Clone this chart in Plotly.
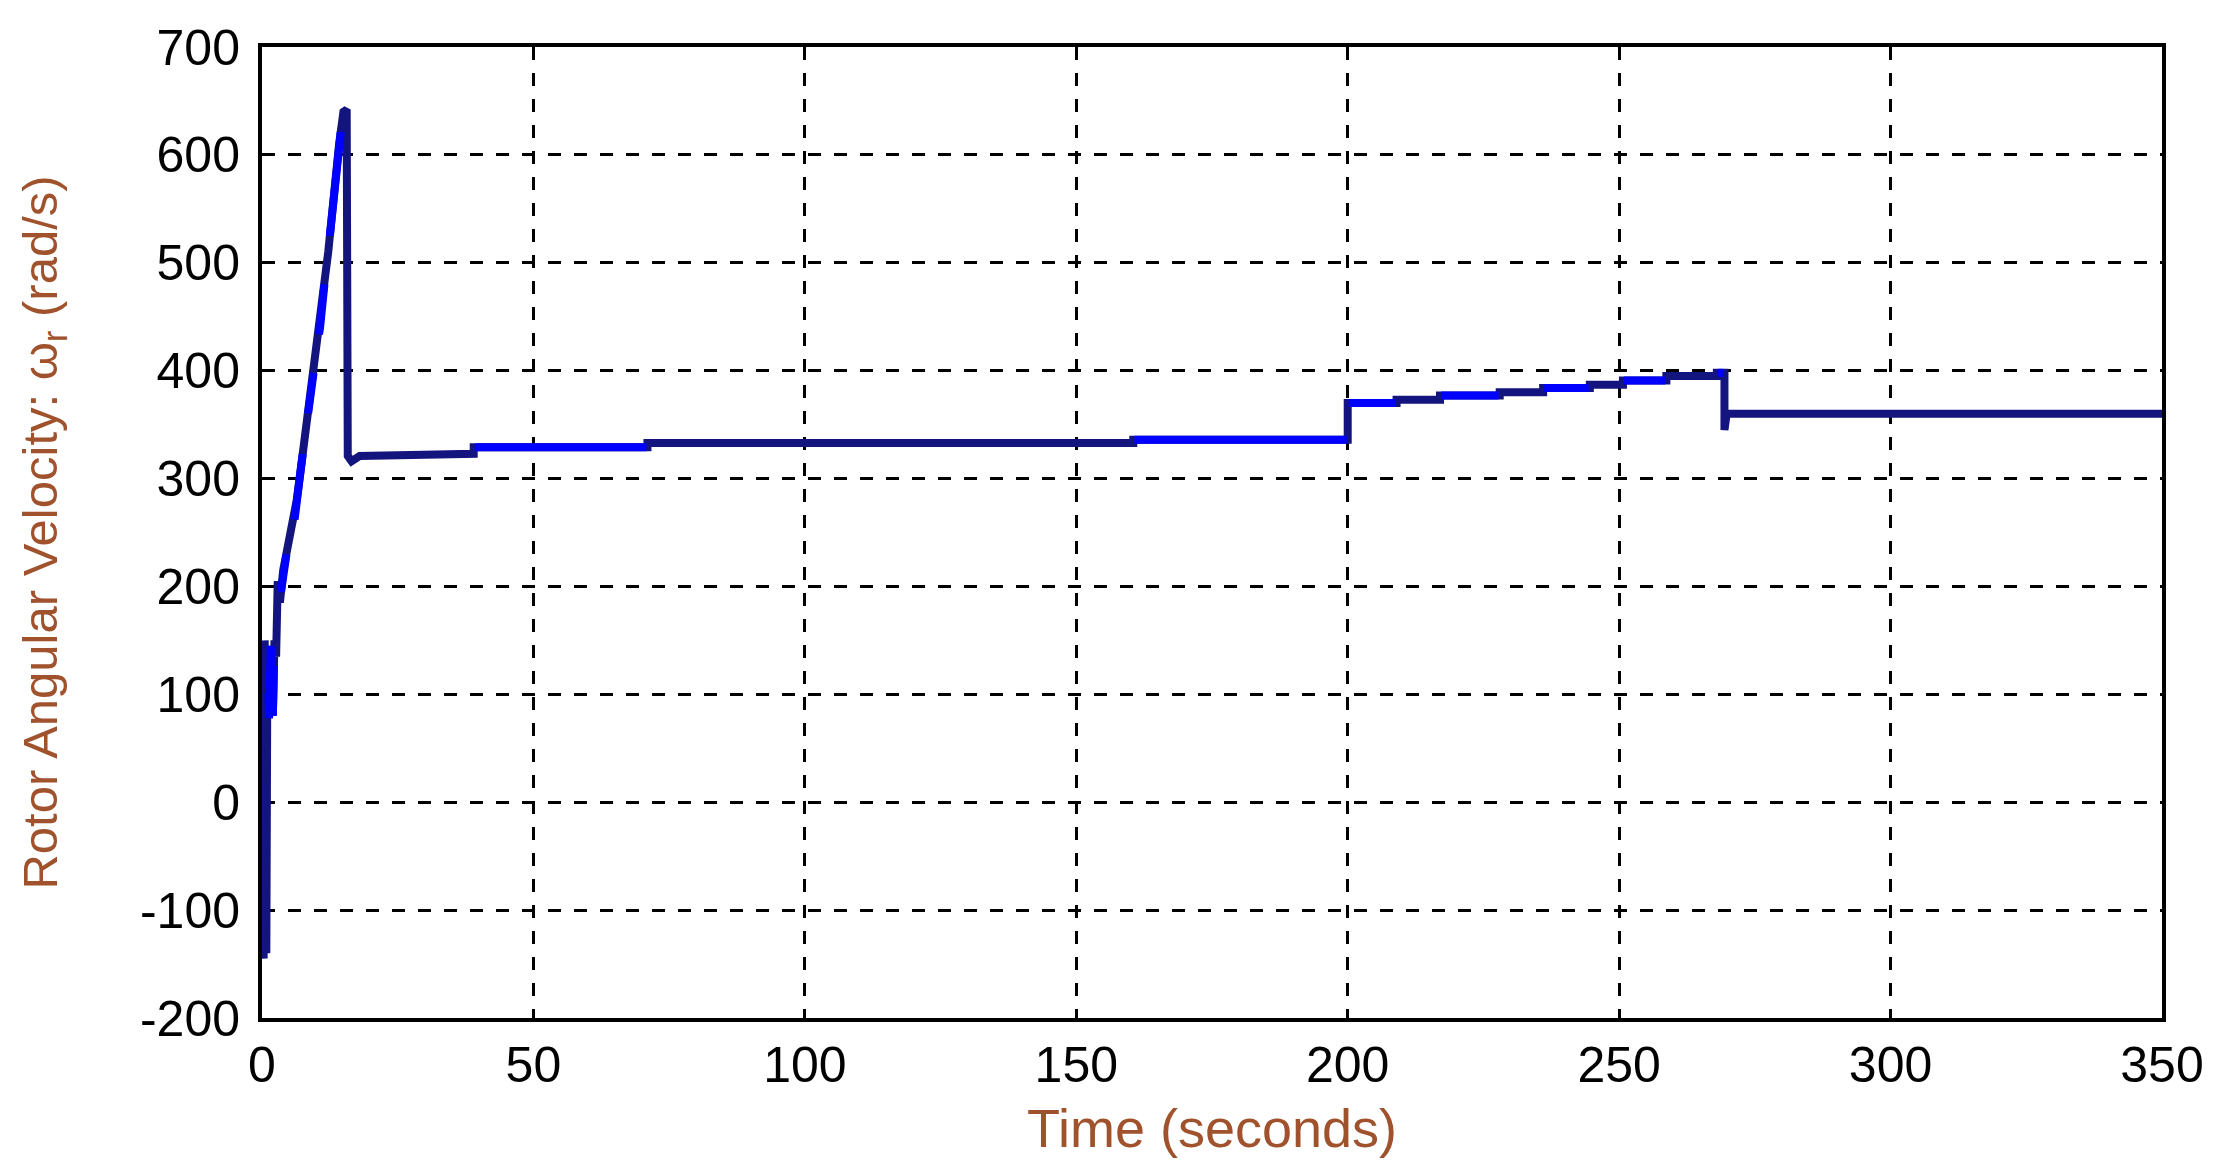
import numpy as np
import plotly.graph_objects as go

# ---- data ----
time_s = [0, 0.3, 0.5, 0.8, 1.0, 1.3, 1.6, 2.0, 2.3, 2.6, 2.9, 3.3, 3.9, 4.6, 5.5, 6.0, 6.4, 7.3, 8.2, 9.2,
          9.9, 10.7, 11.5, 12.2, 12.8, 13.4, 14.2, 15.0, 15.6, 15.8, 16.5, 18.0, 25.0,
          39.0, 39.0, 71.0, 71.0, 160.5, 160.5, 200.0, 200.0, 209.0, 209.0, 217.0, 217.0,
          228.0, 228.0, 236.0, 236.0, 244.6, 244.6, 250.7, 250.7, 258.7, 258.7, 268.0, 268.0,
          269.4, 269.4, 269.8, 350.0]
omega_r = [0, -145, 150, -140, 145, 78, 145, 80, 150, 135, 205, 185, 215, 232, 250, 262, 280, 315, 350, 385,
           415, 440, 480, 510, 540, 575, 610, 640, 642, 321, 316, 321, 322,
           323, 329, 329, 333, 333, 336, 336, 370, 370, 373, 373, 377,
           377, 380, 380, 384, 384, 387, 387, 391, 391, 395, 395, 398,
           398, 345, 360, 360]

x_ticks = [0, 50, 100, 150, 200, 250, 300, 350]
y_ticks = [-200, -100, 0, 100, 200, 300, 400, 500, 600, 700]
y_tick_text = ["-200", "-100", "0", "100", "200", "300", "400", "500", "600", "700"]

# ---- style ----
NAVY = "#14147f"
BLUE = "#0000ff"
blue_ranges = [(1.2, 2.2), (3.5, 4.5), (6.0, 7.5), (8.5, 9.5), (10.5, 11.5), (12.5, 14.5),
               (39.2, 70.8), (160.7, 199.8), (200.2, 208.8), (217.2, 227.8), (236.2, 244.4),
               (250.9, 258.5), (268.2, 269.2)]
LW = 8

t = np.array(time_s, dtype=float)
w = np.array(omega_r, dtype=float)

fig = go.Figure()
fig.add_trace(go.Scatter(x=t, y=w, mode="lines", line=dict(color=NAVY, width=LW),
                         showlegend=False, hoverinfo="skip"))
for a, b in blue_ranges:
    m = (t > a) & (t < b)
    xs = np.concatenate([[a], t[m], [b]])
    ys = np.concatenate([[np.interp(a, t, w)], w[m], [np.interp(b, t, w)]])
    fig.add_trace(go.Scatter(x=xs, y=ys, mode="lines", line=dict(color=BLUE, width=LW),
                             showlegend=False, hoverinfo="skip"))

FONT = "Liberation Sans, Arial, sans-serif"
TITLE_COLOR = "#a0522d"
GRID = dict(showgrid=True, gridcolor="black", gridwidth=2.5, griddash="13px,13px",
            showline=True, linecolor="black", linewidth=4, mirror=True, automargin=False,
            ticklabeloverflow="allow",
            zeroline=False, ticks="", tickfont=dict(family=FONT, size=50, color="black"))

fig.update_layout(
    width=2198, height=1160,
    margin=dict(l=254, r=44, t=39, b=150, autoexpand=False),
    paper_bgcolor="white", plot_bgcolor="white",
    font=dict(family=FONT),
    xaxis=dict(range=[0, 350], tickvals=x_ticks, ticklabelstandoff=0,
               title=dict(text="Time (seconds)", font=dict(family=FONT, size=54, color=TITLE_COLOR),
                          standoff=18),
               **GRID),
    yaxis=dict(range=[-200, 700], tickvals=y_ticks, ticktext=y_tick_text, ticklabelstandoff=8,
               title=dict(text="Rotor Angular Velocity: ω<sub>r</sub> (rad/s)",
                          font=dict(family=FONT, size=49, color=TITLE_COLOR), standoff=68),
               **GRID),
)

fig.write_html("out.html")
